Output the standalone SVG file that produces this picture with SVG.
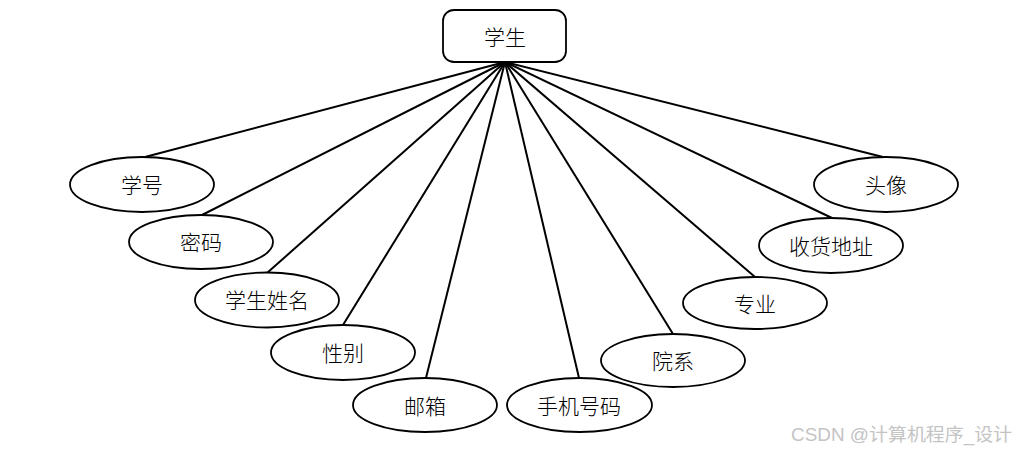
<svg xmlns="http://www.w3.org/2000/svg" width="1016" height="452" viewBox="0 0 1016 452">
<style>
.n{fill:#fff;stroke:#000;stroke-width:1.8}
.t{font-family:"Noto Sans CJK SC","Noto Sans",sans-serif;font-size:21px;font-weight:300;fill:#000;text-anchor:middle;dominant-baseline:central}
.c line{stroke:#000;stroke-width:2}
.wm{font-family:"Liberation Sans","Noto Sans CJK SC",sans-serif;font-size:18px;fill:#c4c4c4}
</style>
<rect width="1016" height="452" fill="#fff"/>
<g class="c" id="connectors">
<line x1="505" y1="62" x2="145" y2="157"/>
<line x1="505" y1="62" x2="202" y2="215"/>
<line x1="505" y1="62" x2="267" y2="273"/>
<line x1="505" y1="62" x2="343" y2="325"/>
<line x1="505" y1="62" x2="426" y2="378"/>
<line x1="505" y1="62" x2="579" y2="378"/>
<line x1="505" y1="62" x2="673" y2="334"/>
<line x1="505" y1="62" x2="755" y2="277"/>
<line x1="505" y1="62" x2="832" y2="218"/>
<line x1="505" y1="62" x2="883" y2="157"/>
</g>
<g id="student"><rect class="n" x="443" y="10" width="123" height="52" rx="11"/><text class="t" x="505" y="36">学生</text></g>
<g id="xuehao"><ellipse class="n" cx="142" cy="184.5" rx="72" ry="27.5"/><text class="t" x="142" y="184">学号</text></g>
<g id="mima"><ellipse class="n" cx="201" cy="242" rx="72" ry="27"/><text class="t" x="201" y="241">密码</text></g>
<g id="xingming"><ellipse class="n" cx="267" cy="300" rx="72" ry="27.5"/><text class="t" x="267" y="299">学生姓名</text></g>
<g id="xingbie"><ellipse class="n" cx="343" cy="352.5" rx="72" ry="27.5"/><text class="t" x="343" y="352">性别</text></g>
<g id="youxiang"><ellipse class="n" cx="425" cy="405" rx="72" ry="27"/><text class="t" x="425" y="405">邮箱</text></g>
<g id="shouji"><ellipse class="n" cx="579.5" cy="405" rx="72.5" ry="27"/><text class="t" x="579" y="405">手机号码</text></g>
<g id="yuanxi"><ellipse class="n" cx="673" cy="360.5" rx="72" ry="26.5"/><text class="t" x="673" y="360">院系</text></g>
<g id="zhuanye"><ellipse class="n" cx="755" cy="303" rx="72" ry="26"/><text class="t" x="755" y="303">专业</text></g>
<g id="dizhi"><ellipse class="n" cx="831" cy="245.5" rx="72" ry="27.5"/><text class="t" x="831" y="245">收货地址</text></g>
<g id="touxiang"><ellipse class="n" cx="886" cy="184.5" rx="72" ry="27.5"/><text class="t" x="886" y="184">头像</text></g>
<text class="wm" x="791" y="441" textLength="221" lengthAdjust="spacingAndGlyphs">CSDN @计算机程序_设计</text>
</svg>
